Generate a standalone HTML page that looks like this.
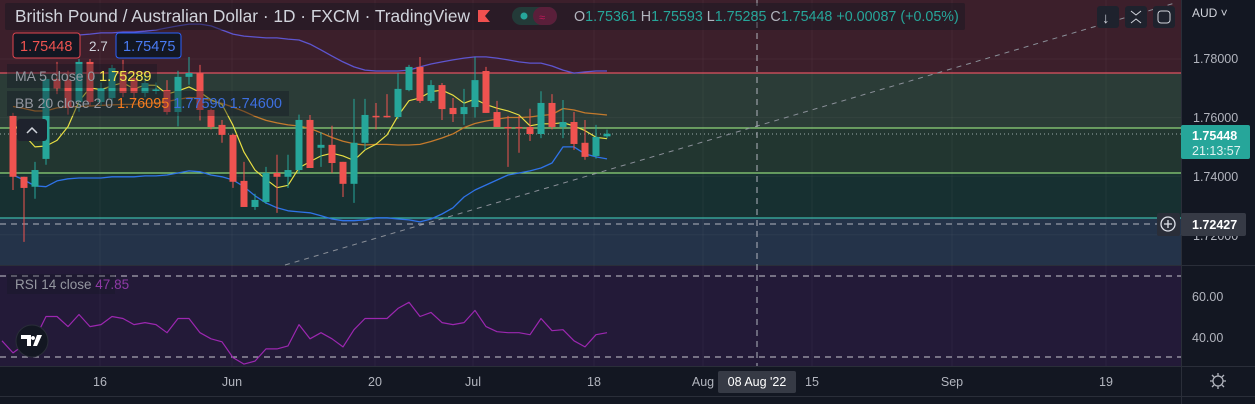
<!DOCTYPE html>
<html><head><meta charset="utf-8"><style>
body{margin:0;background:#131722;width:1255px;height:404px;overflow:hidden;font-family:"Liberation Sans",sans-serif}
svg{display:block}
text{font-family:"Liberation Sans",sans-serif}
</style></head><body>
<svg id="chart" width="1255" height="404" xmlns="http://www.w3.org/2000/svg">
<rect x="0" y="0" width="1255" height="404" fill="#131722"/>
<g id="zones">
<rect x="0" y="0" width="1181" height="73" fill="#3c1f2b"/>
<rect x="0" y="73" width="1181" height="55" fill="#2b3c37"/>
<rect x="0" y="128" width="1181" height="45" fill="#223630"/>
<rect x="0" y="173" width="1181" height="45" fill="#173031"/>
<rect x="0" y="218" width="1181" height="47" fill="#243349"/>
<rect x="0" y="266" width="1181" height="100" fill="#231a38"/>
<line x1="0" y1="265.5" x2="1255" y2="265.5" stroke="#2a2e39"/>
<line x1="0" y1="366.5" x2="1255" y2="366.5" stroke="#2a2e39"/>
<line x1="1181.5" y1="0" x2="1181.5" y2="404" stroke="#2a2e39"/>
<line x1="0" y1="396.5" x2="1255" y2="396.5" stroke="#2a2e39"/>
</g>
<g id="grid" stroke="rgba(255,255,255,0.04)"></g>
<g id="levels">
<line x1="0" y1="73" x2="1181" y2="73" stroke="#e05260" stroke-width="1.2"/>
<line x1="0" y1="128" x2="1181" y2="128" stroke="#8fd67a" stroke-width="1.2"/>
<line x1="0" y1="173" x2="1181" y2="173" stroke="#8fd67a" stroke-width="1.2"/>
<line x1="0" y1="218" x2="1181" y2="218" stroke="#3bb6a8" stroke-width="1.2"/>
<line x1="0" y1="134" x2="1181" y2="134" stroke="#9aa" stroke-width="1" stroke-dasharray="1 3"/>
<line x1="285" y1="265" x2="1175" y2="3" stroke="#8a8f98" stroke-width="1" stroke-dasharray="5 5"/>
<line x1="0" y1="224" x2="1160" y2="224" stroke="#b2b5be" stroke-dasharray="6 5"/>
<line x1="757" y1="0" x2="757" y2="366" stroke="#b2b5be" stroke-dasharray="6 5"/>
<line x1="0" y1="276" x2="1181" y2="276" stroke="#c8c8d0" stroke-dasharray="6 5"/>
<line x1="0" y1="357" x2="1181" y2="357" stroke="#c8c8d0" stroke-dasharray="6 5"/>
</g>
<g id="ind"></g>
<g id="candles"></g>
<g id="rsi"></g>

<!-- header -->
<rect x="5" y="3" width="960" height="27" fill="rgba(19,23,34,0.45)" rx="2"/>
<text x="15" y="22" font-size="17.3" fill="#d1d4dc">British Pound / Australian Dollar · 1D · FXCM · TradingView</text>
<path d="M478 10h12l-5 6 5 6h-12z" fill="#f0504f"/>
<rect x="512" y="7" width="45" height="18" rx="9" fill="#233a38"/>
<rect x="533" y="7" width="24" height="18" rx="9" fill="#5a1f3a"/>
<circle cx="524" cy="16" r="3.5" fill="#26a69a"/>
<text x="539" y="21" font-size="11" fill="#c2185b">≈</text>
<text x="574" y="21" font-size="14.3" fill="#26a69a"><tspan fill="#b2b5be">O</tspan>1.75361 <tspan fill="#b2b5be">H</tspan>1.75593 <tspan fill="#b2b5be">L</tspan>1.75285 <tspan fill="#b2b5be">C</tspan>1.75448 +0.00087 (+0.05%)</text>
<g>
<rect x="1097" y="6" width="22" height="22" rx="3" fill="#1e222d"/>
<text x="1102" y="23" font-size="15" fill="#d1d4dc">↓</text>
<rect x="1125" y="6" width="22" height="22" rx="3" fill="#1e222d"/>
<path d="M1131 11l5 4 5-4M1131 23l5-4 5 4" stroke="#d1d4dc" fill="none"/>
<rect x="1153" y="6" width="22" height="22" rx="3" fill="#1e222d"/>
<rect x="1158" y="11" width="12" height="12" rx="3" stroke="#d1d4dc" fill="none"/>
</g>
<text x="1192" y="17" font-size="12" fill="#d1d4dc">AUD ˅</text>

<!-- legend -->
<rect x="13" y="33" width="67" height="25" rx="3" fill="#131722" stroke="#e0454f"/>
<text x="20" y="51" font-size="14.5" fill="#ef5350">1.75448</text>
<text x="89" y="51" font-size="13.5" fill="#d1d4dc">2.7</text>
<rect x="116" y="33" width="65" height="25" rx="3" fill="#131722" stroke="#2962ff"/>
<text x="123" y="51" font-size="14.5" fill="#4a7cf5">1.75475</text>
<rect x="7" y="64" width="150" height="24" fill="rgba(19,23,34,0.4)"/>
<text x="15" y="81" font-size="14" fill="#9598a1">MA 5 close 0 <tspan fill="#f5e94b" font-size="14.5">1.75289</tspan></text>
<rect x="7" y="91" width="282" height="25" fill="rgba(19,23,34,0.4)"/>
<text x="15" y="108" font-size="14" fill="#9598a1">BB 20 close 2 0 <tspan fill="#f57c1f" font-size="14.5">1.76095</tspan> <tspan fill="#3d6fe0" font-size="14.5">1.77590</tspan> <tspan fill="#3d6fe0" font-size="14.5">1.74600</tspan></text>
<rect x="17" y="119" width="30" height="22" rx="3" fill="#1e222d"/>
<path d="M27 133l5-5 5 5" stroke="#d1d4dc" stroke-width="1.5" fill="none"/>
<rect x="7" y="274" width="108" height="20" fill="rgba(19,23,34,0.3)"/>
<text x="15" y="289" font-size="13.5" fill="#9598a1">RSI 14 close <tspan fill="#8e3aa5">47.85</tspan></text>
<g>
<circle cx="32" cy="341" r="16" fill="#131722" stroke="#2a2e39"/>
<path d="M21 335h10v11h-4v-7h-6z M33 336a2 2 0 1 0 0.01 0 M37 335h5l-5 11h-4z" fill="#fff"/>
</g>

<!-- price axis -->
<g font-size="12.5" fill="#b2b5be">
<text x="1193" y="63">1.78000</text>
<text x="1193" y="122">1.76000</text>
<text x="1193" y="181">1.74000</text>
<text x="1193" y="240">1.72000</text>
<text x="1192" y="301">60.00</text>
<text x="1192" y="342">40.00</text>
</g>
<rect x="1181" y="125" width="69" height="34" rx="2" fill="#26a69a"/>
<text x="1192" y="140" font-size="12.5" font-weight="bold" fill="#fff">1.75448</text>
<text x="1192" y="155" font-size="12.5" fill="#e0f2f1">21:13:57</text>
<rect x="1181" y="213" width="65" height="23" rx="2" fill="#363a45"/>
<text x="1192" y="229" font-size="12.5" font-weight="bold" fill="#fff">1.72427</text>
<rect x="1157" y="213" width="23" height="23" rx="2" fill="#2a2e39"/>
<g>
<circle cx="1168" cy="224" r="7" fill="none" stroke="#e0e3eb" stroke-width="1.3"/>
<path d="M1164 224h8M1168 220v8" stroke="#e0e3eb" stroke-width="1.3"/>
</g>

<!-- time axis -->
<g font-size="12.5" fill="#b2b5be" text-anchor="middle">
<text x="100" y="386">16</text><text x="232" y="386">Jun</text><text x="375" y="386">20</text>
<text x="473" y="386">Jul</text><text x="594" y="386">18</text><text x="703" y="386">Aug</text>
<text x="812" y="386">15</text><text x="952" y="386">Sep</text><text x="1106" y="386">19</text>
</g>
<rect x="718" y="371" width="78" height="22" rx="2" fill="#363a45"/>
<text x="757" y="386" font-size="12.5" fill="#fff" text-anchor="middle">08 Aug '22</text>
<g>
<circle cx="1218" cy="381" r="5" fill="none" stroke="#b2b5be" stroke-width="1.3"/>
<path d="M1218 373v3M1218 386v3M1210 381h3M1223 381h3M1212 375l2 2M1222 385l2 2M1212 387l2-2M1222 377l2-2" stroke="#b2b5be" stroke-width="1.3"/>
</g>
</svg>
<script>
const opens=[1.7606,1.7398,1.7364,1.7459,1.7732,1.7728,1.7653,1.7790,1.7653,1.7667,1.7752,1.7735,1.7684,1.7694,1.7694,1.7619,1.7739,1.7752,1.7626,1.7575,1.7541,1.7384,1.7295,1.7312,1.7411,1.7398,1.7421,1.7592,1.7497,1.7507,1.7449,1.7374,1.7514,1.7606,1.7606,1.7602,1.7694,1.7773,1.7657,1.7711,1.7633,1.7612,1.7636,1.7759,1.7619,1.7568,1.7568,1.7568,1.7544,1.7650,1.7568,1.7585,1.7514,1.7469,1.7536];
const highs=[1.7616,1.7398,1.7449,1.7740,1.7790,1.7760,1.7800,1.7800,1.7720,1.7780,1.7797,1.7760,1.7760,1.7720,1.7728,1.7760,1.7807,1.7780,1.7630,1.7592,1.7545,1.7449,1.7340,1.7432,1.7473,1.7473,1.7610,1.7609,1.7551,1.7572,1.7449,1.7664,1.7664,1.7650,1.7680,1.7752,1.7780,1.7807,1.7728,1.7718,1.7667,1.7698,1.7807,1.7773,1.7657,1.7606,1.7606,1.7630,1.7690,1.7680,1.7660,1.7619,1.7592,1.7575,1.7559];
const lows=[1.7353,1.7176,1.7323,1.7439,1.7680,1.7610,1.7620,1.7640,1.7640,1.7650,1.7670,1.7660,1.7670,1.7680,1.7610,1.7570,1.7712,1.7590,1.7560,1.7514,1.7360,1.7295,1.7285,1.7305,1.7275,1.7360,1.7410,1.7428,1.7432,1.7411,1.7329,1.7309,1.7490,1.7560,1.7600,1.7595,1.7690,1.7650,1.7650,1.7592,1.7585,1.7575,1.7600,1.7616,1.7568,1.7432,1.7480,1.7520,1.7530,1.7560,1.7530,1.7490,1.7456,1.7460,1.7529];
const closes=[1.7398,1.7360,1.7421,1.7732,1.7700,1.7633,1.7790,1.7653,1.7700,1.7769,1.7684,1.7684,1.7718,1.7696,1.7619,1.7739,1.7752,1.7626,1.7568,1.7541,1.7381,1.7295,1.7319,1.7411,1.7398,1.7421,1.7592,1.7428,1.7507,1.7445,1.7374,1.7514,1.7609,1.7604,1.7604,1.7698,1.7773,1.7657,1.7711,1.7629,1.7612,1.7636,1.7728,1.7616,1.7568,1.7566,1.7566,1.7544,1.7650,1.7568,1.7585,1.7510,1.7466,1.7534,1.7545];
const bbUpper=[1.7872,1.7875,1.7878,1.7882,1.7882,1.7882,1.7882,1.7885,1.7889,1.7889,1.7892,1.7892,1.7895,1.7899,1.7906,1.7913,1.7919,1.7919,1.7913,1.7899,1.7885,1.7878,1.7875,1.7872,1.7872,1.7868,1.7865,1.7851,1.7831,1.7810,1.7790,1.7773,1.7762,1.7759,1.7759,1.7759,1.7762,1.7773,1.7783,1.7790,1.7797,1.7803,1.7807,1.7807,1.7803,1.7797,1.7790,1.7786,1.7786,1.7776,1.7762,1.7752,1.7756,1.7759,1.7759];
const bbLower=[1.7404,1.7387,1.7367,1.7364,1.7384,1.7391,1.7394,1.7394,1.7394,1.7398,1.7398,1.7398,1.7401,1.7401,1.7404,1.7411,1.7418,1.7415,1.7404,1.7398,1.7387,1.7364,1.7333,1.7309,1.7292,1.7282,1.7278,1.7275,1.7265,1.7254,1.7248,1.7248,1.7251,1.7258,1.7258,1.7254,1.7251,1.7244,1.7254,1.7271,1.7292,1.7329,1.7353,1.7370,1.7387,1.7404,1.7411,1.7418,1.7428,1.7445,1.7500,1.7500,1.7476,1.7466,1.7459];
const maStart=[1.7580,1.7541,1.7500,1.7503];
const rsiValues=[38,32,36,39,50,50,45,51,45,46,50,49,46,47,46,42,49,49,42,39,37.5,29.7,26.5,28,34,34,35.5,46,39,42,39,35,43.5,49,49,49,54,57,50,52,47,46,47,53,45,42.5,42,42,41,49,43,43.5,38,35,41,42];
const gridPrices=[1.78,1.76,1.74,1.72];
const gridX=[100,232,375,473,594,703,812,952,1106];

const NS='http://www.w3.org/2000/svg';
const xOf=i=>13+11*i;
const yOf=p=>59+(1.78-p)*2930;
const rsiY=v=>316.5-(v-50)*2.025;
function mk(tag,attrs,parent){const e=document.createElementNS(NS,tag);for(const k in attrs)e.setAttribute(k,attrs[k]);parent.appendChild(e);return e;}

const grid=document.getElementById('grid');
gridPrices.forEach(p=>{const l=mk('line',{x1:0,x2:1181,y1:yOf(p),y2:yOf(p)},grid);

});
gridX.forEach(x=>{const l=mk('line',{x1:x,x2:x,y1:0,y2:366},grid);

});

const ind=document.getElementById('ind');
function poly(vals,xf,yf,color,name,parent,w){
 const pts=vals.map((v,i)=>xf(i).toFixed(1)+','+yf(v).toFixed(1)).join(' ');
 const p=mk('polyline',{points:pts,fill:'none',stroke:color,'stroke-width':w||1.3,'stroke-linejoin':'round'},parent);
 
 
}
const bbMid=bbUpper.map((u,i)=>(u+bbLower[i])/2);
const ma=closes.map((c,i)=>i<4?maStart[i]:(closes[i]+closes[i-1]+closes[i-2]+closes[i-3]+closes[i-4])/5);
poly(bbUpper,xOf,yOf,'#5e55cf','bb-upper-band',ind);
poly(bbLower,xOf,yOf,'#2f73e8','bb-lower-band',ind);
poly(bbMid,xOf,yOf,'#c47a2c','bb-basis',ind);
poly(ma,xOf,yOf,'#e8df43','ma-5-line',ind,1.2);

const cg=document.getElementById('candles');
closes.forEach((c,i)=>{
 const o=opens[i],up=c>=o,col=up?'#26a69a':'#ef5350',x=xOf(i);
 const w=mk('line',{x1:x,x2:x,y1:yOf(highs[i]),y2:yOf(lows[i]),stroke:col,'stroke-width':1},cg);
 
 
 const top=yOf(Math.max(o,c)),bot=yOf(Math.min(o,c));
 const b=mk('rect',{x:x-3.5,y:top,width:7,height:Math.max(1.5,bot-top),fill:col},cg);
 
 
});

poly(rsiValues,j=>2+11*j,rsiY,'#9c27b0','rsi-line',document.getElementById('rsi'),1.2);
</script>
</body></html>
